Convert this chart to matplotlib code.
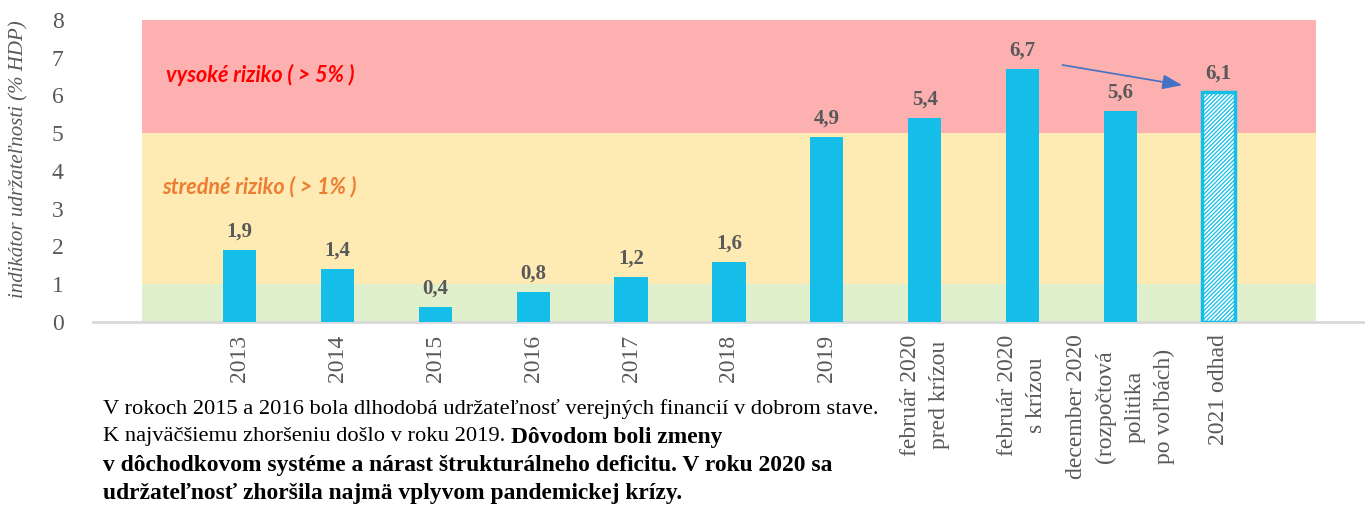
import numpy as np
import matplotlib
matplotlib.use("Agg")
import matplotlib.pyplot as plt

# data
categories = ["2013", "2014", "2015", "2016", "2017", "2018", "2019",
              "február 2020\npred krízou", "február 2020\ns krízou",
              "december 2020\n(rozpočtová\npolitika\npo voľbách)", "2021 odhad"]
values = [1.9, 1.4, 0.4, 0.8, 1.2, 1.6, 4.9, 5.4, 6.7, 5.6, 6.1]
hatched = [False] * 10 + [True]
bands = [(0, 1, "#E1F0CC"), (1, 5, "#FEEAB3"), (5, 8, "#FDB0B0")]
yticks = [0, 1, 2, 3, 4, 5, 6, 7, 8]

BLUE = "#14BEE8"
GREY = "#595959"
SERIF = ["Liberation Serif", "DejaVu Serif"]

plt.rcParams["hatch.linewidth"] = 1.2

fig = plt.figure(figsize=(13.65, 5.07), dpi=100)
ax = fig.add_axes([0.068, 0.365, 0.932, 0.5956])

x = np.arange(len(categories))
for lo, hi, col in bands:
    ax.fill_between([-1, len(categories)], lo, hi, color=col, lw=0, zorder=0)

for xi, v, h in zip(x, values, hatched):
    ax.bar(xi, v, width=0.34, color=BLUE, lw=0, zorder=3)
    if h:
        # white diagonal hatch with blue outline
        ax.bar(xi, v, width=0.34, facecolor="none", edgecolor="white", lw=0,
               hatch="////////", zorder=4)
        ax.bar(xi, v, width=0.34, facecolor="none", edgecolor=BLUE, lw=2.5, zorder=5)
    ax.annotate(f"{v:.1f}".replace(".", ","), (xi, v), xytext=(0, 6),
                textcoords="offset points", ha="center", va="bottom",
                fontsize=15, fontweight="bold", color=GREY, family=SERIF)

ax.set_xlim(-1.5, len(categories) + 0.5)
ax.set_ylim(0, 8)
ax.set_xticks(x)
ax.set_xticklabels(categories, rotation=90, ha="center", va="top",
                   multialignment="center", linespacing=1.5,
                   fontsize=17, color=GREY, family=SERIF)
ax.set_yticks(yticks)
ax.set_yticklabels([str(t) for t in yticks], fontsize=17, color=GREY, family=SERIF)
ax.tick_params(axis="both", length=0)
ax.tick_params(axis="x", pad=9)
ax.tick_params(axis="y", pad=21)
for s in ["top", "right", "left"]:
    ax.spines[s].set_visible(False)
ax.spines["bottom"].set_color("#D9D9D9")
ax.spines["bottom"].set_linewidth(2)

fig.text(0.014, 1 - 159 / 507, "indikátor udržateľnosti (% HDP)", rotation=90,
         ha="center", va="center", fontsize=15, style="italic", color=GREY,
         family=SERIF)

ax.text(-0.75, 6.54, "vysoké riziko ( > 5% )", color="#FF0000", fontsize=15.5,
        fontweight="bold", style="italic", family=["Lato", "DejaVu Sans"],
        va="center", ha="left")
ax.text(-0.79, 3.58, "stredné riziko ( > 1% )", color="#ED7D31", fontsize=15.5,
        fontweight="bold", style="italic", family=["Lato", "DejaVu Sans"],
        va="center", ha="left")

ax.annotate("", xy=(9.66, 6.26), xytext=(8.38, 6.82),
            arrowprops=dict(arrowstyle="-|>,head_length=1.2,head_width=0.45",
                            color="#4472C4", lw=1.2), zorder=6)

# bottom text with mixed weights
tx = 103 / 1365
lines_y = [1 - 409 / 507, 1 - 437 / 507, 1 - 465 / 507, 1 - 493 / 507]
kw = dict(family=SERIF, color="black", va="center", ha="left")
fig.text(tx, lines_y[0],
         "V rokoch 2015 a 2016 bola dlhodobá udržateľnosť verejných financií v dobrom stave.",
         fontsize=16.2, **kw)
t1 = fig.text(tx, lines_y[1], "K najväčšiemu zhoršeniu došlo v roku 2019. ",
              fontsize=16.2, **kw)
fig.canvas.draw()
bb = t1.get_window_extent(renderer=fig.canvas.get_renderer())
fig.text(bb.x1 / fig.bbox.width, lines_y[1], "Dôvodom boli zmeny",
         fontweight="bold", fontsize=16.9, **kw)
fig.text(tx, lines_y[2],
         "v dôchodkovom systéme a nárast štrukturálneho deficitu. V roku 2020 sa",
         fontweight="bold", fontsize=16.9, **kw)
fig.text(tx, lines_y[3], "udržateľnosť zhoršila najmä vplyvom pandemickej krízy.",
         fontweight="bold", fontsize=16.9, **kw)

fig.savefig("out.png", dpi=100, facecolor="white")
